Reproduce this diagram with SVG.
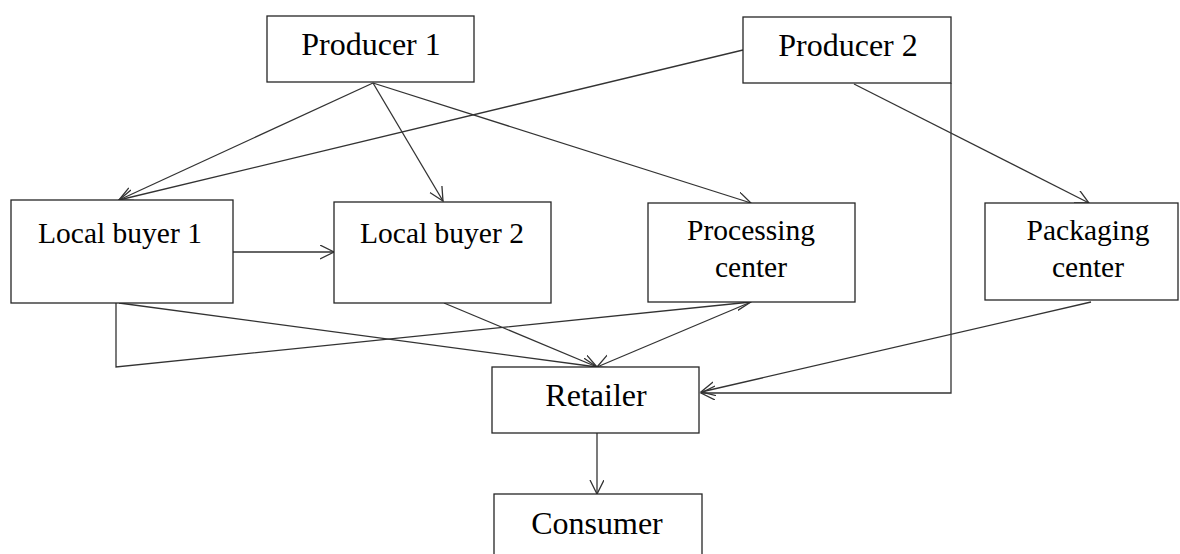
<svg xmlns="http://www.w3.org/2000/svg" width="1180" height="554" viewBox="0 0 1180 554">
<style>
.box{fill:#fff;stroke:#262626;stroke-width:1.3}
.t{font-family:"Liberation Serif","Times New Roman",serif;fill:#000;text-anchor:middle}
.big{font-size:32px}
.sm{font-size:29.5px}
.c{fill:none;stroke:#333;stroke-width:1.3}
</style>
<defs>
<marker id="a" markerWidth="16" markerHeight="16" refX="14" refY="7" orient="auto" markerUnits="userSpaceOnUse">
<path d="M0,0 L14,7 L0,14" fill="none" stroke="#333" stroke-width="1.3"/>
</marker>
</defs>
<rect width="1180" height="554" fill="#fff"/>
<g id="connectors">
<line class="c" x1="373" y1="83" x2="119" y2="200" marker-end="url(#a)"/>
<line class="c" x1="373" y1="83" x2="443" y2="201" marker-end="url(#a)"/>
<line class="c" x1="373" y1="83" x2="751" y2="203" marker-end="url(#a)"/>
<line class="c" x1="743" y1="50" x2="119" y2="200" marker-end="url(#a)"/>
<line class="c" x1="854" y1="84" x2="1089" y2="203" marker-end="url(#a)"/>
<polyline class="c" points="951,83 951,393 701,393" marker-end="url(#a)"/>
<line class="c" x1="1091" y1="302" x2="701" y2="392" marker-end="url(#a)"/>
<line class="c" x1="233" y1="252" x2="334" y2="252" marker-end="url(#a)"/>
<polyline class="c" points="116,303 116,367 751,302" marker-end="url(#a)"/>
<line class="c" x1="119" y1="303" x2="597" y2="367" marker-end="url(#a)"/>
<line class="c" x1="444" y1="303" x2="597" y2="367" marker-end="url(#a)"/>
<line class="c" x1="751" y1="302" x2="597" y2="367" marker-end="url(#a)"/>
<line class="c" x1="597" y1="433" x2="597" y2="494" marker-end="url(#a)"/>
</g>
<g id="producer1"><rect class="box" x="267" y="16" width="207" height="66"/><text class="t big" x="371" y="55">Producer 1</text></g>
<g id="producer2"><rect class="box" x="743" y="17" width="208" height="66"/><text class="t big" x="848" y="56">Producer 2</text></g>
<g id="localbuyer1"><rect class="box" x="11" y="200" width="222" height="103"/><text class="t sm" x="120" y="243">Local buyer 1</text></g>
<g id="localbuyer2"><rect class="box" x="334" y="202" width="217" height="101"/><text class="t sm" x="442" y="243">Local buyer 2</text></g>
<g id="processing"><rect class="box" x="648" y="203" width="207" height="99"/><text class="t sm" x="751" y="240">Processing</text><text class="t sm" x="751" y="277">center</text></g>
<g id="packaging"><rect class="box" x="985" y="203" width="193" height="97"/><text class="t sm" x="1088" y="240">Packaging</text><text class="t sm" x="1088" y="277">center</text></g>
<g id="retailer"><rect class="box" x="492" y="367" width="207" height="66"/><text class="t big" x="596" y="406">Retailer</text></g>
<g id="consumer"><rect class="box" x="494" y="494" width="208" height="70"/><text class="t big" x="597" y="534">Consumer</text></g>
</svg>
